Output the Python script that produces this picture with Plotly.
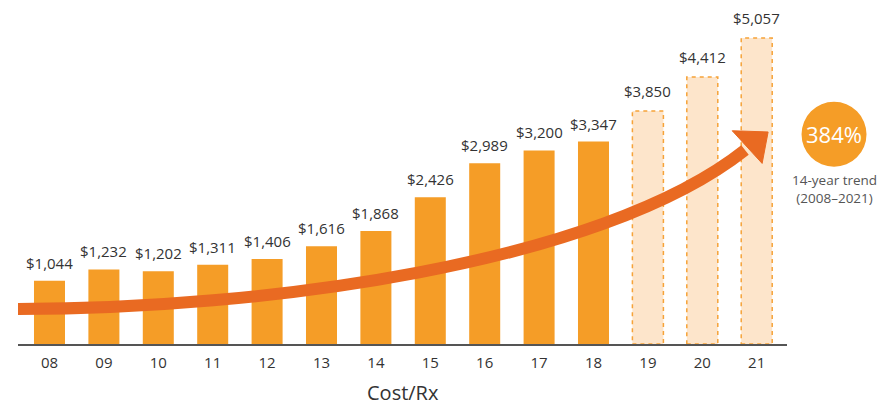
import plotly.graph_objects as go

years = ["08", "09", "10", "11", "12", "13", "14", "15", "16", "17", "18", "19", "20", "21"]
cost = [1044, 1232, 1202, 1311, 1406, 1616, 1868, 2426, 2989, 3200, 3347, 3850, 4412, 5057]
projected = [False] * 11 + [True] * 3
labels = ["$" + format(v, ",") for v in cost]

orange = "#F59D27"
arrow_col = "#E96A22"
light = "#FDE5CB"
dash_col = "#F6A338"
txt = "#333333"
font = "Open Sans"

xs = list(range(len(years)))
bar_w = 0.57

fig = go.Figure()
fig.add_trace(
    go.Bar(
        x=xs,
        y=cost,
        width=bar_w,
        marker=dict(color=[light if p else orange for p in projected], line=dict(width=0)),
        hoverinfo="skip",
    )
)

# dashed outline + value labels
for i, v in enumerate(cost):
    if projected[i]:
        fig.add_shape(
            type="rect", xref="x", yref="y",
            x0=i - bar_w / 2, x1=i + bar_w / 2, y0=0, y1=v,
            line=dict(color=dash_col, width=1.5, dash="4px,4px"),
            fillcolor="rgba(0,0,0,0)",
        )
    fig.add_annotation(
        x=i, y=v, text=labels[i], showarrow=False,
        xanchor="center", yanchor="bottom", yshift=8 if projected[i] else 6,
        font=dict(family=font, size=15, color=txt),
    )

# trend arrow (decoration)
fig.add_shape(
    type="path", xref="x", yref="y",
    path="M -0.579,578 C 3.869,578 10.119,1306 12.785,3207",
    line=dict(color=arrow_col, width=12),
    layer="above",
)
fig.add_shape(
    type="path", xref="x", yref="y",
    path="M 12.55,3525 L 13.21,3505 L 13.10,2985 Z",
    fillcolor=arrow_col, line=dict(color=arrow_col, width=1),
    layer="above",
)

# 384% badge
fig.add_shape(
    type="circle", xref="paper", yref="paper",
    x0=1.0189, x1=1.1034, y0=0.5305, y1=0.7251,
    fillcolor=orange, line=dict(width=0),
)
fig.add_annotation(
    x=1.0612, y=0.628, xref="paper", yref="paper", text="384%", showarrow=False,
    xanchor="center", yanchor="middle",
    font=dict(family=font, size=22, color="white"),
)
fig.add_annotation(
    x=1.0612, y=0.465, xref="paper", yref="paper",
    text="14-year trend<br>(2008\u20132021)", showarrow=False,
    xanchor="center", yanchor="middle",
    font=dict(family=font, size=13.5, color="#555555"),
)
fig.add_annotation(
    x=0.5, y=-0.144, xref="paper", yref="paper", text="Cost/Rx", showarrow=False,
    xanchor="center", yanchor="middle",
    font=dict(family=font, size=20, color=txt),
)

fig.update_layout(
    width=895,
    height=406,
    margin=dict(l=18, r=108, t=10, b=62),
    plot_bgcolor="white",
    paper_bgcolor="white",
    showlegend=False,
    xaxis=dict(
        range=[-0.579, 13.557],
        tickvals=xs,
        ticktext=years,
        showgrid=False,
        zeroline=False,
        showline=True,
        linecolor="#555555",
        linewidth=2,
        ticks="",
        ticklabelstandoff=4,
        tickfont=dict(family=font, size=15, color=txt),
    ),
    yaxis=dict(
        range=[0, 5521],
        visible=False,
    ),
)

fig.write_html(
    "out.html",
    config={"displayModeBar": False},
    post_script="document.body.style.margin='0';",
)
